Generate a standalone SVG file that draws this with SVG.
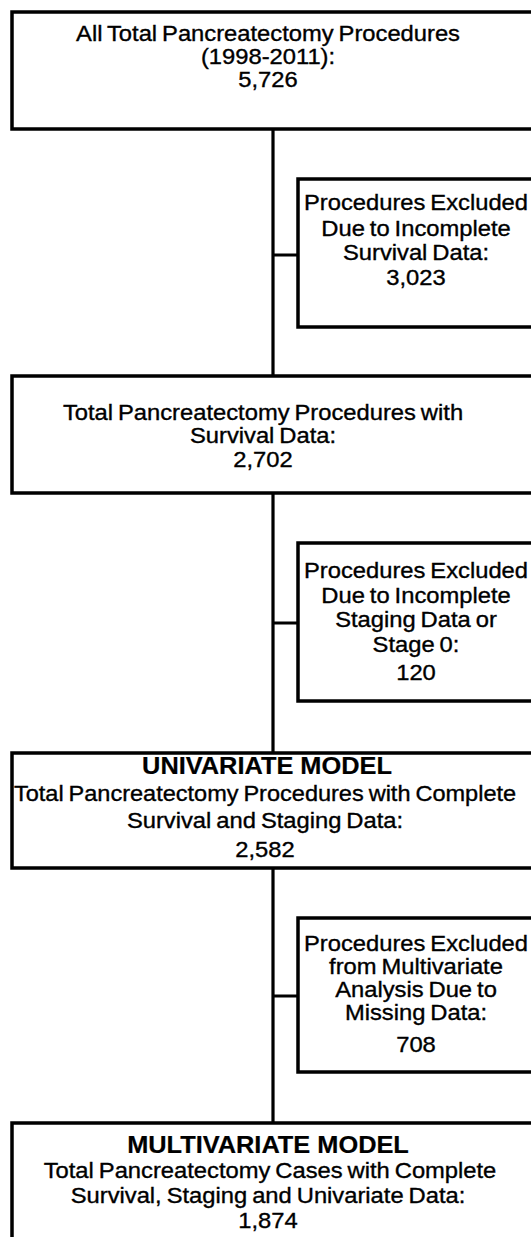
<svg xmlns="http://www.w3.org/2000/svg" width="531" height="1237" viewBox="0 0 531 1237">
<style>
.box{fill:#fff;stroke:#000;stroke-width:3.5}
.conn{fill:none;stroke:#000;stroke-width:3.2}
text{font-family:"Liberation Sans",Arial,sans-serif;font-size:22px;fill:#000;stroke:#000;stroke-width:0.35;text-anchor:middle;word-spacing:-1.5px}
.b{font-weight:bold;font-size:23.5px;stroke-width:0.2;word-spacing:0}
</style>
<rect width="531" height="1237" fill="#fff"/>
<g id="connectors">
<path class="conn" d="M273,129 V376 M273,255 H298 M273,493 V753 M273,623 H298 M273,868 V1123 M273,996 H298"/>
</g>
<g id="n1">
<rect class="box" x="12" y="12" width="530" height="117"/>
<text transform="translate(268,41) scale(1.08,1)">All Total Pancreatectomy Procedures</text>
<text transform="translate(268,64) scale(1.08,1)">(1998-2011):</text>
<text transform="translate(268,87) scale(1.08,1)">5,726</text>
</g>
<g id="n2">
<rect class="box" x="298" y="179" width="240" height="148"/>
<text transform="translate(416,210) scale(1.08,1)">Procedures Excluded</text>
<text transform="translate(416,236) scale(1.08,1)">Due to Incomplete</text>
<text transform="translate(416,260) scale(1.08,1)">Survival Data:</text>
<text transform="translate(416,285) scale(1.08,1)">3,023</text>
</g>
<g id="n3">
<rect class="box" x="12" y="376" width="530" height="117"/>
<text transform="translate(263,420) scale(1.08,1)">Total Pancreatectomy Procedures with</text>
<text transform="translate(263,443) scale(1.08,1)">Survival Data:</text>
<text transform="translate(263,467) scale(1.08,1)">2,702</text>
</g>
<g id="n4">
<rect class="box" x="298" y="543" width="240" height="158"/>
<text transform="translate(416,578) scale(1.08,1)">Procedures Excluded</text>
<text transform="translate(416,603) scale(1.08,1)">Due to Incomplete</text>
<text transform="translate(416,627) scale(1.08,1)">Staging Data or</text>
<text transform="translate(416,652) scale(1.08,1)">Stage 0:</text>
<text transform="translate(416,680) scale(1.08,1)">120</text>
</g>
<g id="n5">
<rect class="box" x="12" y="753" width="530" height="115"/>
<text class="b" transform="translate(267,774) scale(1.08,1)">UNIVARIATE MODEL</text>
<text transform="translate(265,801) scale(1.07,1)">Total Pancreatectomy Procedures with Complete</text>
<text transform="translate(265,828) scale(1.08,1)">Survival and Staging Data:</text>
<text transform="translate(265,857) scale(1.08,1)">2,582</text>
</g>
<g id="n6">
<rect class="box" x="298" y="918" width="240" height="154"/>
<text transform="translate(416,951) scale(1.08,1)">Procedures Excluded</text>
<text transform="translate(416,974) scale(1.08,1)">from Multivariate</text>
<text transform="translate(416,997) scale(1.08,1)">Analysis Due to</text>
<text transform="translate(416,1020) scale(1.08,1)">Missing Data:</text>
<text transform="translate(416,1052) scale(1.08,1)">708</text>
</g>
<g id="n7">
<rect class="box" x="12" y="1123" width="530" height="130"/>
<text class="b" transform="translate(268,1153) scale(1.08,1)">MULTIVARIATE MODEL</text>
<text transform="translate(270,1178) scale(1.08,1)">Total Pancreatectomy Cases with Complete</text>
<text transform="translate(268,1203) scale(1.08,1)">Survival, Staging and Univariate Data:</text>
<text transform="translate(268,1228) scale(1.08,1)">1,874</text>
</g>
</svg>
